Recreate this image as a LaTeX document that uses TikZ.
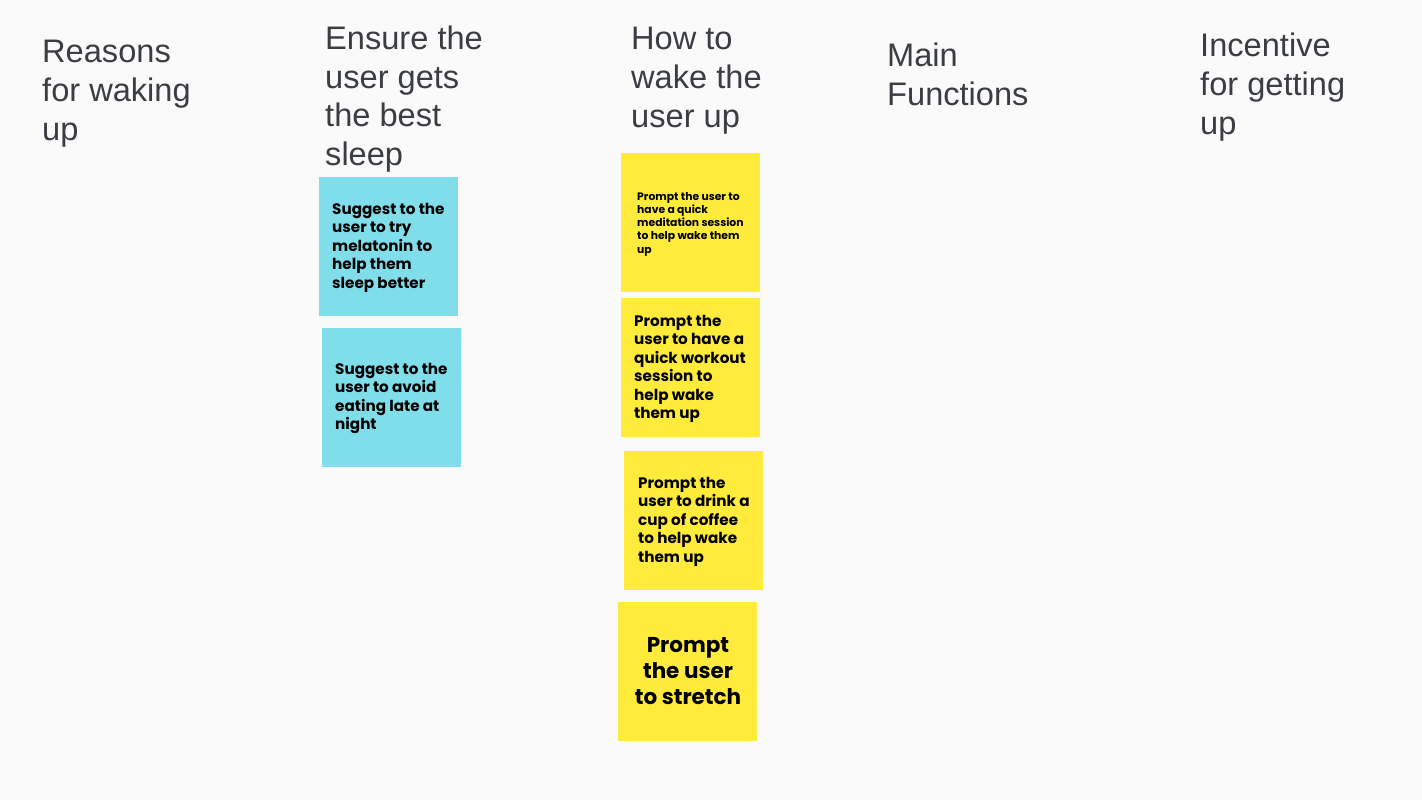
\documentclass[tikz,border=0pt]{standalone}
\usepackage{fontspec}
\setmainfont{Liberation Sans}
\newfontfamily\notefont{Poppins}
\definecolor{bg}{HTML}{FAFAFA}
\definecolor{headc}{HTML}{3A3D42}
\definecolor{blue}{HTML}{80DEEA}
\definecolor{yel}{HTML}{FFEB3B}
\tikzset{
  heading/.style={anchor=base west, inner sep=0pt, align=left, text=headc,
    font=\fontsize{32.6}{38.6}\selectfont},
  note/.style={fill=#1, draw=none, minimum width=139pt, minimum height=139pt, anchor=north west, inner sep=0pt},
  notetext/.style={anchor=base west, inner sep=0pt, align=left, text=black},
  midfont/.style={font=\notefont\bfseries\fontsize{15.2}{18.5}\selectfont},
}
\begin{document}
\begin{tikzpicture}[x=1pt,y=-1pt]
\fill[bg] (0,0) rectangle (1422,800);
\useasboundingbox (0,0) rectangle (1422,800);
% headings (anchor = baseline of last line)
\node[heading] (h1) at (42,140) {Reasons\\for waking\\up};
\node[heading] (h2) at (325,165.5) {Ensure the\\user gets\\the best\\sleep};
\node[heading] (h3) at (631,127) {How to\\wake the\\user up};
\node[heading] (h4) at (887,105.5) {Main\\Functions};
\node[heading] (h5) at (1200,134) {Incentive\\for getting\\up};
% blue notes
\node[note=blue] (b1) at (319,177) {};
\node[notetext, midfont] (b1t) at (332,288) {Suggest to the\\user to try\\melatonin to\\help them\\sleep better};
\node[note=blue] (b2) at (322,328) {};
\node[notetext, midfont] (b2t) at (335,429.5) {Suggest to the\\user to avoid\\eating late at\\night};
% yellow notes
\node[note=yel] (y1) at (621,153) {};
\node[notetext, font=\notefont\bfseries\fontsize{10.8}{13.3}\selectfont] (y1t) at (637,253.2) {Prompt the user to\\have a quick\\meditation session\\to help wake them\\up};
\node[note=yel] (y2) at (621,298) {};
\node[notetext, midfont] (y2t) at (634,418.5) {Prompt the\\user to have a\\quick workout\\session to\\help wake\\them up};
\node[note=yel] (y3) at (624,451) {};
\node[notetext, midfont] (y3t) at (638,562) {Prompt the\\user to drink a\\cup of coffee\\to help wake\\them up};
\node[note=yel] (y4) at (618,602) {};
\node[anchor=base, inner sep=0pt, align=center, text=black, font=\notefont\bfseries\fontsize{21.5}{26}\selectfont] (y4t) at (688,704) {Prompt\\the user\\to stretch};
\end{tikzpicture}
\end{document}
